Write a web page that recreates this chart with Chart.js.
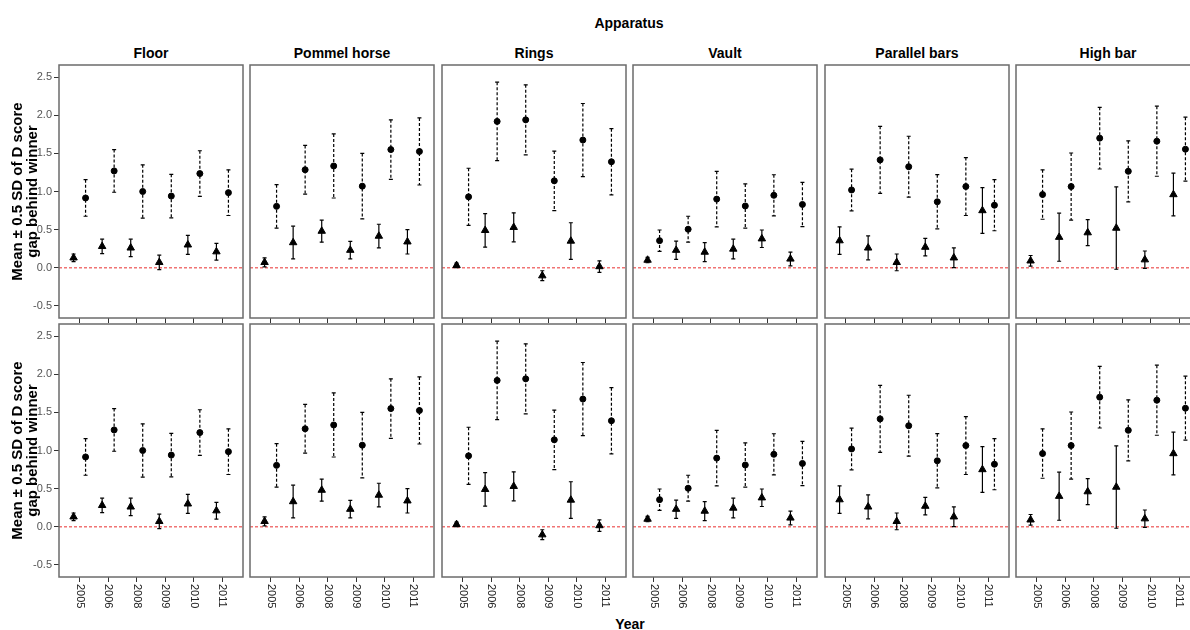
<!DOCTYPE html>
<html>
<head>
<meta charset="utf-8">
<script src="https://cdn.jsdelivr.net/npm/chart.js@4.4.1/dist/chart.umd.min.js"></script>
<style>
  body { margin: 0; width: 1190px; height: 630px; overflow: hidden; background: #fff; position: relative;
         font-family: "Liberation Sans", Arial, sans-serif; }
  .lbl { position: absolute; font-weight: bold; font-size: 14px; line-height: 16px; color: #000;
         text-align: center; white-space: nowrap; }
  canvas { position: absolute; }
</style>
</head>
<body>
<div class="lbl" style="left:529px;width:200px;top:15px">Apparatus</div>
<div class="lbl" style="left:580px;width:100px;top:616px">Year</div>
<script>
const YEARS = ["2005", "2006", "2008", "2009", "2010", "2011"];
const APPARATUS = ["Floor", "Pommel horse", "Rings", "Vault", "Parallel bars", "High bar"];
const Y_TICKS = [-0.5, 0, 0.5, 1.0, 1.5, 2.0, 2.5];

// triangle series (solid error bars), one row per apparatus
const TRI_MEAN = [
  [0.13, 0.28, 0.26, 0.07, 0.30, 0.21],     // Floor
  [0.07, 0.33, 0.48, 0.23, 0.415, 0.34],    // Pommel horse
  [0.03, 0.49, 0.53, -0.105, 0.35, 0.015],  // Rings
  [0.10, 0.23, 0.205, 0.245, 0.38, 0.115],  // Vault
  [0.355, 0.26, 0.07, 0.27, 0.13, 0.75],    // Parallel bars
  [0.09, 0.40, 0.46, 0.52, 0.105, 0.96]     // High bar
];
const TRI_ERR = [
  [0.05, 0.095, 0.115, 0.095, 0.125, 0.11],
  [0.06, 0.215, 0.145, 0.115, 0.155, 0.16],
  [0.03, 0.22, 0.19, 0.065, 0.24, 0.075],
  [0.035, 0.12, 0.125, 0.13, 0.115, 0.09],
  [0.18, 0.157, 0.11, 0.116, 0.13, 0.30],
  [0.07, 0.315, 0.17, 0.54, 0.114, 0.28]
];
// circle series (dashed error bars)
const CIRC_MEAN = [
  [0.915, 1.27, 1.0, 0.94, 1.235, 0.985],
  [0.805, 1.285, 1.335, 1.07, 1.55, 1.525],
  [0.93, 1.92, 1.94, 1.14, 1.675, 1.39],
  [0.355, 0.505, 0.90, 0.81, 0.95, 0.83],
  [1.02, 1.415, 1.325, 0.865, 1.065, 0.82],
  [0.96, 1.065, 1.70, 1.265, 1.66, 1.555]
];
const CIRC_ERR = [
  [0.24, 0.28, 0.35, 0.285, 0.30, 0.30],
  [0.285, 0.32, 0.42, 0.43, 0.39, 0.44],
  [0.375, 0.515, 0.46, 0.39, 0.48, 0.435],
  [0.14, 0.17, 0.365, 0.29, 0.27, 0.29],
  [0.273, 0.44, 0.40, 0.356, 0.38, 0.335],
  [0.324, 0.44, 0.405, 0.40, 0.46, 0.42]
];

const FONT = '"Liberation Sans", Arial, sans-serif';
Chart.defaults.font.family = FONT;

const PANEL_LEFT = [59, 250, 442, 633, 825, 1016];
const PANEL_W = 184;
const PANEL_H = 253;
const ROW_TOP = [65, 324];
const Y_AXIS_W = 59;

// panel titles
APPARATUS.forEach((name, c) => {
  const d = document.createElement("div");
  d.className = "lbl";
  d.style.left = (PANEL_LEFT[c] - 30) + "px";
  d.style.width = (PANEL_W + 60) + "px";
  d.style.top = "45px";
  d.textContent = name;
  document.body.appendChild(d);
});

const frame = {
  id: "frame",
  beforeDatasetsDraw(chart) {
    const { ctx, chartArea: a, scales: { y } } = chart;
    const y0 = y.getPixelForValue(0);
    ctx.save();
    ctx.strokeStyle = "#f07474";
    ctx.lineWidth = 1.5;
    ctx.setLineDash([3, 2]);
    ctx.beginPath();
    ctx.moveTo(a.left, y0);
    ctx.lineTo(a.right, y0);
    ctx.stroke();
    ctx.restore();
  },
  afterDraw(chart, args, opts) {
    const { ctx, chartArea: a } = chart;
    ctx.save();
    ctx.strokeStyle = "#6b6b6b";
    ctx.lineWidth = 1.5;
    ctx.strokeRect(a.left, a.top, a.right - a.left, a.bottom - a.top);
    if (opts.yearLabels) {
      const x = chart.scales.x;
      ctx.font = "11px " + FONT;
      ctx.fillStyle = "#222";
      ctx.textAlign = "left";
      ctx.textBaseline = "middle";
      x.ticks.forEach((t, i) => {
        ctx.save();
        ctx.translate(x.getPixelForTick(i), a.bottom + 7);
        ctx.rotate(Math.PI / 2);
        ctx.fillText(YEARS[t.value], 0, 0);
        ctx.restore();
      });
    }
    ctx.restore();
  }
};

const errorBars = {
  id: "errorBars",
  beforeDatasetsDraw(chart) {
    const { ctx, scales: { y } } = chart;
    chart.data.datasets.forEach((ds, di) => {
      const meta = chart.getDatasetMeta(di);
      ctx.save();
      ctx.strokeStyle = "#000";
      ctx.lineWidth = 1.2;
      meta.data.forEach((pt, i) => {
        const m = ds.data[i].y, e = ds.errors[i];
        const yt = y.getPixelForValue(m + e);
        const yb = y.getPixelForValue(m - e);
        ctx.setLineDash(ds.barDash);
        ctx.beginPath();
        ctx.moveTo(pt.x, yt);
        ctx.lineTo(pt.x, yb);
        ctx.stroke();
        ctx.setLineDash([]);
        ctx.beginPath();
        ctx.moveTo(pt.x - 2, yt); ctx.lineTo(pt.x + 2, yt);
        ctx.moveTo(pt.x - 2, yb); ctx.lineTo(pt.x + 2, yb);
        ctx.stroke();
      });
      ctx.restore();
    });
  }
};

function makePanel(r, c) {
  const yW = c === 0 ? Y_AXIS_W : 0;
  const padL = c === 0 ? 0 : 1;
  const xH = r === 0 ? 6 : 42;
  const canvas = document.createElement("canvas");
  canvas.width = yW + padL + PANEL_W + 2;
  canvas.height = 1 + PANEL_H + xH;
  canvas.style.left = (PANEL_LEFT[c] - yW - padL) + "px";
  canvas.style.top = (ROW_TOP[r] - 1) + "px";
  document.body.appendChild(canvas);

  new Chart(canvas, {
    type: "scatter",
    data: {
      datasets: [
        {
          data: TRI_MEAN[c].map((v, i) => ({ x: i - 0.21, y: v })),
          errors: TRI_ERR[c],
          barDash: [],
          pointStyle: "triangle",
          pointRadius: 4.3,
          borderWidth: 1,
          backgroundColor: "#000",
          borderColor: "#000"
        },
        {
          data: CIRC_MEAN[c].map((v, i) => ({ x: i + 0.21, y: v })),
          errors: CIRC_ERR[c],
          barDash: [3, 2],
          pointStyle: "circle",
          pointRadius: 3,
          borderWidth: 1,
          backgroundColor: "#000",
          borderColor: "#000"
        }
      ]
    },
    options: {
      responsive: false,
      animation: false,
      events: [],
      layout: { autoPadding: false, padding: { left: padL, right: 2, top: 1, bottom: 0 } },
      scales: {
        x: {
          type: "linear",
          min: -0.72,
          max: 5.72,
          afterBuildTicks: (s) => { s.ticks = YEARS.map((_, i) => ({ value: i })); },
          afterFit: (s) => { s.height = xH; s.paddingLeft = 0; s.paddingRight = 0; },
          grid: { drawOnChartArea: false, drawTicks: true, tickLength: 5, color: "#333", lineWidth: 1 },
          border: { display: false },
          ticks: { display: false }
        },
        y: {
          display: c === 0,
          min: -0.66,
          max: 2.66,
          afterBuildTicks: (s) => { s.ticks = Y_TICKS.map((v) => ({ value: v })); },
          afterFit: (s) => { s.width = yW; s.paddingTop = 0; s.paddingBottom = 0; },
          grid: { drawOnChartArea: false, drawTicks: true, tickLength: 5, color: "#333", lineWidth: 1 },
          border: { display: false },
          ticks: {
            color: "#555",
            font: { size: 11 },
            padding: 2,
            callback: (v) => v.toFixed(1)
          },
          title: {
            display: true,
            text: ["Mean \u00b1 0.5 SD of D score", "gap behind winner"],
            color: "#000",
            font: { size: 15, weight: "bold", lineHeight: 1 },
            padding: { top: 10, bottom: 0 }
          }
        }
      },
      plugins: {
        legend: { display: false },
        tooltip: { enabled: false },
        frame: { yearLabels: r === 1 }
      }
    },
    plugins: [frame, errorBars]
  });
}

for (let r = 0; r < 2; r++) {
  for (let c = 0; c < APPARATUS.length; c++) makePanel(r, c);
}
</script>
</body>
</html>
